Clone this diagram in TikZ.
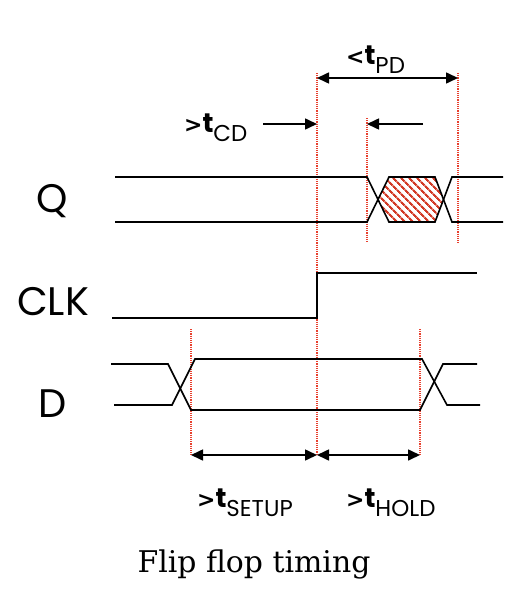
\documentclass[tikz,border=0pt]{standalone}
\usepackage{fontspec}
\usepackage{tikz}
\usetikzlibrary{arrows.meta,patterns.meta}
\newfontfamily\comicfont{Poppins}
\newfontfamily\chevfont{DejaVu Sans}
\newfontfamily\capfont{DejaVu Serif}
\definecolor{guidered}{HTML}{E8402E}
\definecolor{hatchred}{HTML}{D23A26}
\newcommand{\tname}[2]{{\chevfont\bfseries\fontsize{22}{22}\selectfont #1}{\comicfont\bfseries\fontsize{27}{27}\selectfont t\raisebox{-9bp}{\mdseries\fontsize{23}{23}\selectfont #2}}}

\begin{document}
\begin{tikzpicture}[x=1bp,y=-1bp,
    sig/.style={line width=1.6bp},
    guide/.style={guidered,line width=1.1bp,dash pattern=on 1.2bp off 1bp},
    tip/.style={line width=1.6bp,-{Triangle[length=12bp,width=11bp]}},
    dim/.style={line width=1.6bp,{Triangle[length=12bp,width=11bp]}-{Triangle[length=12bp,width=11bp]}},
    sname/.style={font=\comicfont\fontsize{40}{40}\selectfont,anchor=base,inner sep=0}]
    \useasboundingbox (0,0) rectangle (532,612);
    % dotted reference lines
    \draw[guide] (317,73) coordinate (edgeT) -- (317,455) coordinate (edgeB);
    \draw[guide] (367,118) -- (367,243);
    \draw[guide] (458,73) -- (458,243);
    \draw[guide] (191,329) -- (191,455) coordinate (setupB);
    \draw[guide] (420,329) -- (420,455) coordinate (holdB);

    % Q: hatched while changing
    \fill[pattern={Lines[angle=-45,distance=6bp,line width=2.4bp]},pattern color=hatchred]
        (378,199.5) -- (389,177) -- (435,177) -- (443.5,199.5) -- (435,222) -- (389,222) -- cycle;
    \draw[sig] (115,177) -- (367,177) -- (389,222) -- (435,222) -- (452,177) -- (503,177);
    \draw[sig] (115,222) -- (367,222) -- (389,177) -- (435,177) -- (452,222) -- (503,222);
    % CLK
    \draw[sig] (112,318) -- (317,318) -- (317,273) -- (477,273);
    % D
    \draw[sig] (111,364) -- (168,364) -- (191,410) -- (420,410) -- (443,364) -- (477,364);
    \draw[sig] (114,405) -- (172,405) -- (195,359) -- (422,359) -- (447,405) -- (480,405);

    % timing arrows
    \coordinate (pdA) at (317,78);
    \coordinate (pdB) at (458,78);
    \draw[dim] (pdA) -- (pdB);
    \coordinate (cdA) at (263,124);
    \coordinate (cdB) at (317,124);
    \draw[tip] (cdA) -- (cdB);
    \coordinate (cdC) at (423,124);
    \coordinate (cdD) at (367,124);
    \draw[tip] (cdC) -- (cdD);
    \draw[dim] (setupB) -- (edgeB);
    \draw[dim] (edgeB) -- (holdB);

    % labels
    \node[sname] (qname) at (52,212) {Q};
    \node[sname] (clkname) at (53,315) {CLK};
    \node[sname] (dname) at (53,417) {D};
    \node[anchor=base west,inner sep=0] (tpd) at (346,65) {\tname{<}{PD}};
    \node[anchor=base west,inner sep=0] (tcd) at (184,133) {\tname{>}{CD}};
    \node[anchor=base west,inner sep=0] (tsetup) at (197,507) {\tname{>}{SETUP}};
    \node[anchor=base west,inner sep=0] (thold) at (346,507) {\tname{>}{HOLD}};
    \node[font=\capfont\fontsize{30}{30}\selectfont,anchor=base,inner sep=0] (caption) at (254,572) {Flip flop timing};
\end{tikzpicture}
\end{document}
